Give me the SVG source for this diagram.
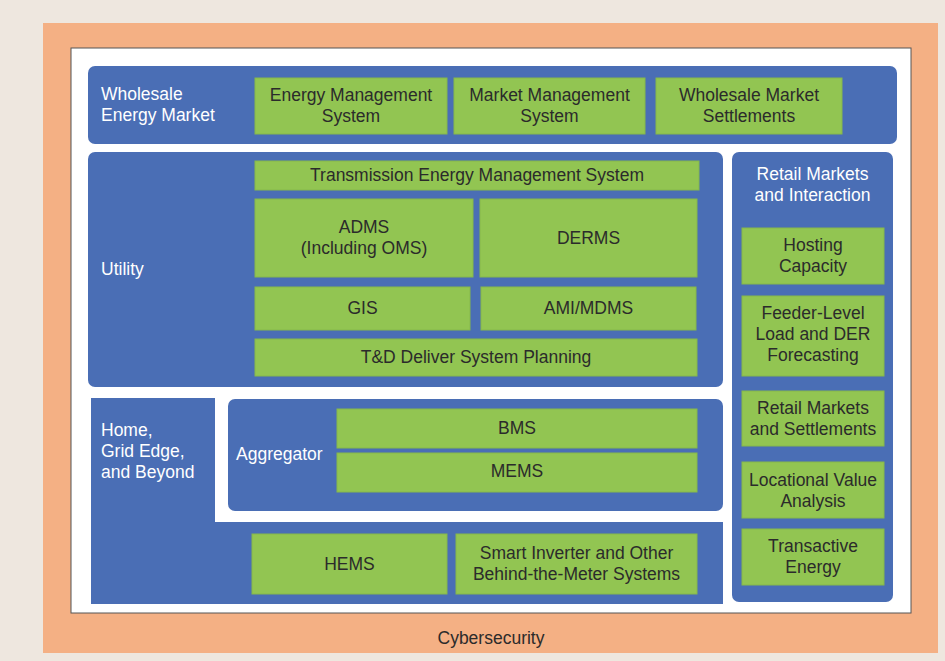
<svg xmlns="http://www.w3.org/2000/svg" width="945" height="661" viewBox="0 0 945 661">
  <style>
    .blue { fill: #4a6eb5; }
    .grn { fill: #92c552; stroke: #86b84a; stroke-width: 1; }
    .wt { font-family: "Liberation Sans", Arial, sans-serif; font-size: 17.5px; fill: #ffffff; }
    .dk { font-family: "Liberation Sans", Arial, sans-serif; font-size: 17.5px; fill: #2b2b2b; text-anchor: middle; }
  </style>

  <!-- backdrop and frames -->
  <rect x="0" y="0" width="945" height="661" fill="#eee7df"/>
  <rect x="43" y="23" width="895" height="630" fill="#f4b084"/>
  <rect x="71" y="48" width="840" height="565" fill="#ffffff" stroke="#555555" stroke-width="1"/>
  <text class="dk" x="491" y="644">Cybersecurity</text>

  <!-- Wholesale energy market -->
  <g id="wholesale">
    <rect class="blue" x="88" y="66" width="809" height="78" rx="7"/>
    <text class="wt" x="101" y="100">Wholesale</text>
    <text class="wt" x="101" y="121">Energy Market</text>
  </g>
  <g id="ems">
    <rect class="grn" x="255" y="78" width="192" height="56"/>
    <text class="dk" x="351" y="101">Energy Management</text>
    <text class="dk" x="351" y="122">System</text>
  </g>
  <g id="mms">
    <rect class="grn" x="454" y="78" width="191" height="56"/>
    <text class="dk" x="549.5" y="101">Market Management</text>
    <text class="dk" x="549.5" y="122">System</text>
  </g>
  <g id="wms">
    <rect class="grn" x="656" y="78" width="186" height="56"/>
    <text class="dk" x="749" y="101">Wholesale Market</text>
    <text class="dk" x="749" y="122">Settlements</text>
  </g>

  <!-- Utility -->
  <g id="utility">
    <rect class="blue" x="88" y="152" width="635" height="235" rx="7"/>
    <text class="wt" x="101" y="275">Utility</text>
  </g>
  <g id="tems">
    <rect class="grn" x="255" y="161" width="444" height="29"/>
    <text class="dk" x="477" y="181">Transmission Energy Management System</text>
  </g>
  <g id="adms">
    <rect class="grn" x="255" y="199" width="218" height="78"/>
    <text class="dk" x="364" y="233">ADMS</text>
    <text class="dk" x="364" y="254">(Including OMS)</text>
  </g>
  <g id="derms">
    <rect class="grn" x="480" y="199" width="217" height="78"/>
    <text class="dk" x="588.5" y="244">DERMS</text>
  </g>
  <g id="gis">
    <rect class="grn" x="255" y="287" width="215" height="43"/>
    <text class="dk" x="362.5" y="314">GIS</text>
  </g>
  <g id="ami">
    <rect class="grn" x="481" y="287" width="215" height="43"/>
    <text class="dk" x="588.5" y="314">AMI/MDMS</text>
  </g>
  <g id="tdplan">
    <rect class="grn" x="255" y="339" width="442" height="37"/>
    <text class="dk" x="476" y="363">T&amp;D Deliver System Planning</text>
  </g>

  <!-- Home, grid edge and beyond -->
  <g id="home">
    <path class="blue" d="M91,398 H215 V522 H723 V604 H91 Z"/>
    <text class="wt" x="101" y="436">Home,</text>
    <text class="wt" x="101" y="457">Grid Edge,</text>
    <text class="wt" x="101" y="478">and Beyond</text>
  </g>
  <g id="aggregator">
    <rect class="blue" x="228" y="399" width="495" height="112" rx="7"/>
    <text class="wt" x="236" y="460">Aggregator</text>
  </g>
  <g id="bms">
    <rect class="grn" x="337" y="409" width="360" height="39"/>
    <text class="dk" x="517" y="434">BMS</text>
  </g>
  <g id="mems">
    <rect class="grn" x="337" y="453" width="360" height="39"/>
    <text class="dk" x="517" y="477">MEMS</text>
  </g>
  <g id="hems">
    <rect class="grn" x="252" y="534" width="195" height="60"/>
    <text class="dk" x="349.5" y="570">HEMS</text>
  </g>
  <g id="inverter">
    <rect class="grn" x="456" y="534" width="241" height="60"/>
    <text class="dk" x="576.5" y="559">Smart Inverter and Other</text>
    <text class="dk" x="576.5" y="580">Behind-the-Meter Systems</text>
  </g>

  <!-- Retail markets and interaction -->
  <g id="retail">
    <rect class="blue" x="732" y="152" width="161" height="450" rx="7"/>
    <text class="wt" x="812.5" y="180" text-anchor="middle">Retail Markets</text>
    <text class="wt" x="812.5" y="201" text-anchor="middle">and Interaction</text>
  </g>
  <g id="hosting">
    <rect class="grn" x="742" y="228" width="142" height="56"/>
    <text class="dk" x="813" y="251">Hosting</text>
    <text class="dk" x="813" y="272">Capacity</text>
  </g>
  <g id="forecast">
    <rect class="grn" x="742" y="296" width="142" height="80"/>
    <text class="dk" x="813" y="319">Feeder-Level</text>
    <text class="dk" x="813" y="340">Load and DER</text>
    <text class="dk" x="813" y="361">Forecasting</text>
  </g>
  <g id="settlements">
    <rect class="grn" x="742" y="391" width="142" height="55"/>
    <text class="dk" x="813" y="414">Retail Markets</text>
    <text class="dk" x="813" y="435">and Settlements</text>
  </g>
  <g id="locational">
    <rect class="grn" x="742" y="462" width="142" height="56"/>
    <text class="dk" x="813" y="486">Locational Value</text>
    <text class="dk" x="813" y="507">Analysis</text>
  </g>
  <g id="transactive">
    <rect class="grn" x="742" y="529" width="142" height="56"/>
    <text class="dk" x="813" y="552">Transactive</text>
    <text class="dk" x="813" y="573">Energy</text>
  </g>

  <!-- no connectors in this diagram -->
  <g id="connectors"/>
</svg>
